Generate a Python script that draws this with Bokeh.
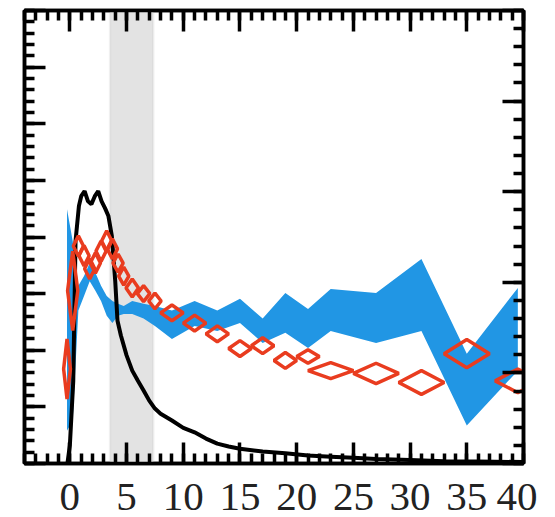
from bokeh.plotting import figure
from bokeh.models import (Range1d, LinearAxis, SingleIntervalTicker, FixedTicker, BoxAnnotation,
                          CustomJSTickFormatter)
from bokeh.embed import file_html
from bokeh.resources import INLINE

# ---- data ----
black_x = [-0.2, 0.0, 0.3, 0.5, 0.8, 1.0, 1.3, 1.6, 1.9, 2.2, 2.5, 2.8, 3.1, 3.4, 3.7, 4.0, 4.2, 4.5,
           5.0, 5.5, 6.0, 6.5, 7.0, 7.5, 8.0, 9, 10, 11, 12, 13, 14, 15, 17, 19, 21, 23, 25, 27, 30, 33, 36, 40]
black_y = [0.02, 0.32, 1.46, 3.93, 4.55, 4.72, 4.81, 4.63, 4.58, 4.72, 4.81, 4.63, 4.51, 4.37, 4.02, 3.22,
           2.52, 2.26, 1.91, 1.64, 1.46, 1.29, 1.11, 0.97, 0.88, 0.76, 0.63, 0.55, 0.44, 0.35, 0.30, 0.26,
           0.21, 0.18, 0.14, 0.12, 0.10, 0.08, 0.06, 0.04, 0.035, 0.026]

bin_x = [-0.25, 0.25, 0.75, 1.25, 1.75, 2.25, 2.75, 3.25, 3.75, 4.25, 4.75, 5.5, 6.5, 7.5,
         9, 11, 13, 15, 17, 19, 21, 23, 27, 31, 35, 39.5]
blue_upper = [4.49, 3.93, 3.14, 3.31, 3.54, 3.37, 3.14, 2.96, 2.87, 2.82, 2.78, 2.87, 2.82, 2.78,
              2.70, 2.87, 2.70, 2.91, 2.56, 3.01, 2.73, 3.08, 3.01, 3.61, 1.94, 3.10]
blue_lower = [0.58, 0.76, 2.70, 2.96, 3.22, 3.05, 2.87, 2.61, 2.48, 2.61, 2.64, 2.64, 2.56, 2.43,
              2.20, 2.43, 2.34, 2.48, 2.13, 2.31, 2.04, 2.34, 2.13, 2.34, 0.67, 1.64]

red_y = [1.67, 3.05, 3.84, 3.67, 3.44, 3.54, 3.75, 3.93, 3.79, 3.54, 3.31, 3.10, 3.00, 2.87,
         2.66, 2.48, 2.29, 2.03, 2.08, 1.82, 1.89, 1.64, 1.59, 1.43, 1.94, 1.46]
red_dx = [0.3] + [0.45] * 10 + [0.55] * 3 + [1.0] * 7 + [2.0] * 5
red_dy = [0.53, 0.70, 0.18, 0.18, 0.18, 0.18, 0.18, 0.18, 0.18, 0.16, 0.16, 0.16, 0.14, 0.14,
          0.14, 0.14, 0.14, 0.14, 0.14, 0.14, 0.12, 0.14, 0.18, 0.21, 0.25, 0.21]

shade_left, shade_right = 3.55, 7.35
x_ticks_major = 5
y_left_range = (0, 8)
y_right_range = (0, 5)
left_major = list(range(0, 9))
left_minor = [i / 5 for i in range(0, 41)]
right_major = list(range(0, 6))
right_minor = [i / 5 for i in range(0, 26)]

BLUE = "#2196E4"
RED = "#E93C1F"

p = figure(width=537, height=517, x_range=Range1d(-4, 40), y_range=Range1d(*y_left_range),
           output_backend="svg", toolbar_location=None,
           x_axis_location=None, y_axis_location=None,
           min_border_left=24, min_border_right=14, min_border_top=10, min_border_bottom=54)
p.extra_y_ranges = {"right": Range1d(*y_right_range)}
p.xgrid.visible = False
p.ygrid.visible = False
p.outline_line_color = "black"
p.outline_line_width = 3.5
p.background_fill_color = "white"
p.border_fill_color = "white"

p.add_layout(BoxAnnotation(left=shade_left, right=shade_right, fill_color="#e3e3e3", fill_alpha=1.0,
                           line_color="#cccccc", line_width=2.5, level="underlay"))

p.varea(x=bin_x, y1=blue_lower, y2=blue_upper, fill_color=BLUE)
p.line(black_x, black_y, line_color="black", line_width=4)

xs = [[x - dx, x, x + dx, x] for x, dx in zip(bin_x, red_dx)]
ys = [[y, y + dy, y, y - dy] for y, dy in zip(red_y, red_dy)]
p.patches(xs, ys, fill_color=None, line_color=RED, line_width=3.5)

blank = CustomJSTickFormatter(code="return '';")


def style(ax, label=False, maj=21, mnr=10):
    ax.axis_line_color = "black"
    ax.axis_line_width = 3.5
    ax.major_tick_in = maj
    ax.major_tick_out = 0
    ax.minor_tick_in = mnr
    ax.minor_tick_out = 0
    ax.major_tick_line_width = 3.5
    ax.minor_tick_line_width = 3.5
    ax.major_tick_line_color = "black"
    ax.minor_tick_line_color = "black"
    if label:
        ax.major_label_text_font = "Liberation Serif"
        ax.major_label_text_font_size = "41px"
        ax.major_label_text_color = "#222222"
        ax.major_label_standoff = 20
    else:
        ax.formatter = blank
        ax.major_label_text_font_size = "1px"
        ax.major_label_standoff = 0


bottom = LinearAxis(ticker=SingleIntervalTicker(interval=x_ticks_major, num_minor_ticks=5))
style(bottom, label=True)
top = LinearAxis(ticker=SingleIntervalTicker(interval=x_ticks_major, num_minor_ticks=5))
style(top)
left = LinearAxis(ticker=FixedTicker(ticks=left_major, minor_ticks=left_minor))
style(left)
right = LinearAxis(y_range_name="right", ticker=FixedTicker(ticks=right_major, minor_ticks=right_minor))
style(right)
p.add_layout(bottom, "below")
p.add_layout(top, "above")
p.add_layout(left, "left")
p.add_layout(right, "right")

open("out.html", "w").write(file_html(p, INLINE))
